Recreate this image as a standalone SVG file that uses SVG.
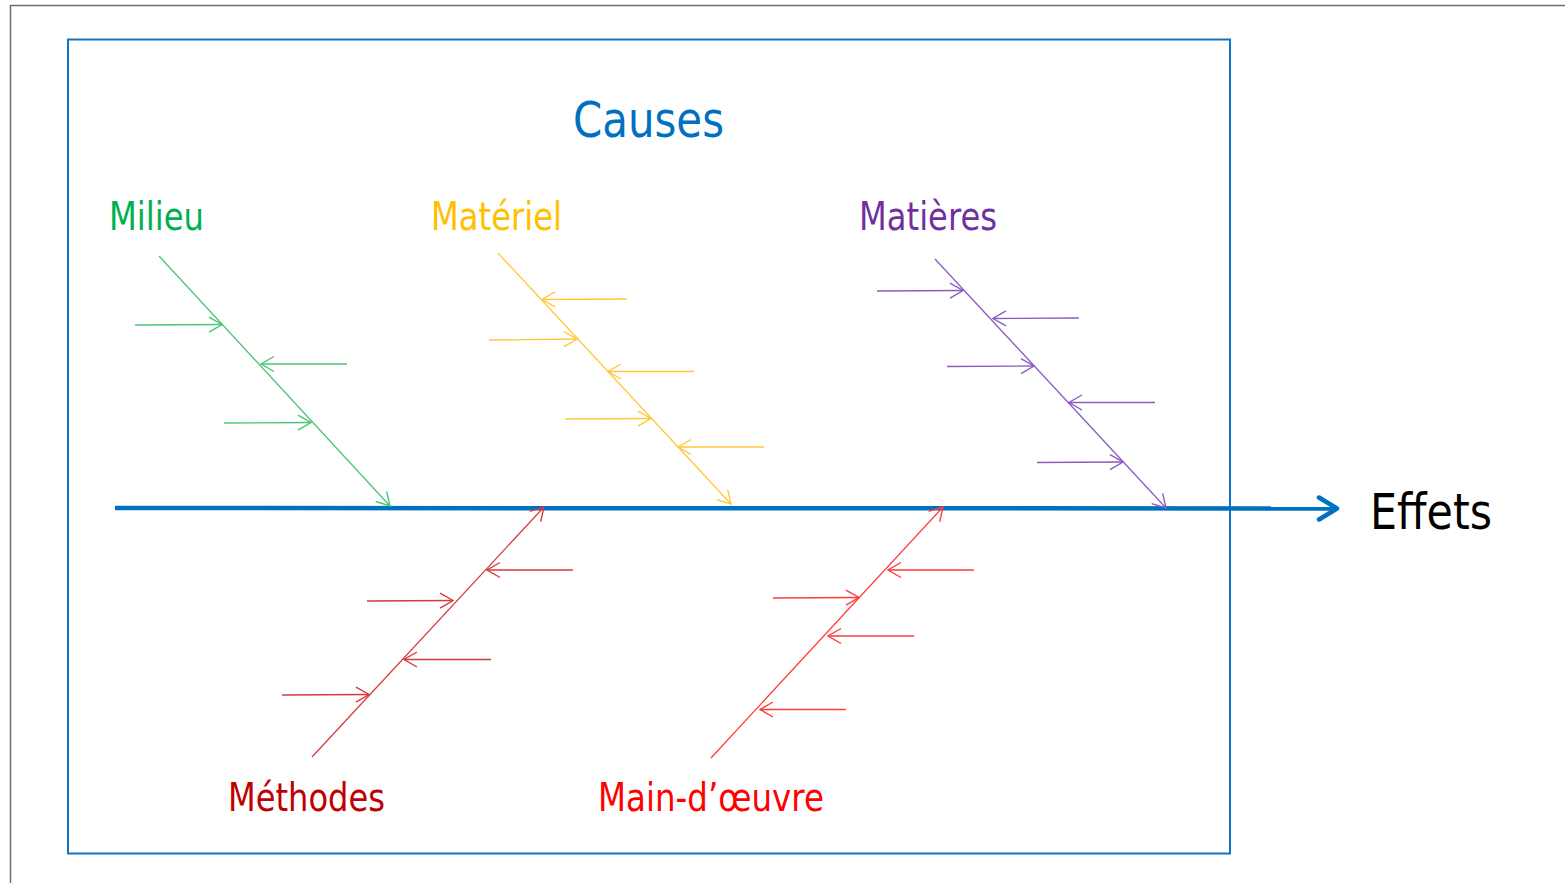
<svg xmlns="http://www.w3.org/2000/svg" width="1565" height="883" viewBox="0 0 1565 883">
<style>
text{font-family:"DejaVu Sans","Liberation Sans",sans-serif;}
.lbl{font-size:39px;}
.big{font-size:50px;}
.br{fill:none;stroke-width:1.3;}
.g{stroke:#4cc476;}
.o{stroke:#ffc83a;}
.p{stroke:#8a5cc0;}
.r1{stroke:#d63a3a;}
.r2{stroke:#ff3a3a;}
</style>
<defs>
<marker id="mg" markerUnits="userSpaceOnUse" viewBox="-15 -10 17 20" markerWidth="17" markerHeight="20" refX="0" refY="0" orient="auto"><path d="M-13,-7.5 L0,0 L-13,7.5" fill="none" stroke="#4cc476" stroke-width="1.4"/></marker>
<marker id="mo" markerUnits="userSpaceOnUse" viewBox="-15 -10 17 20" markerWidth="17" markerHeight="20" refX="0" refY="0" orient="auto"><path d="M-13,-7.5 L0,0 L-13,7.5" fill="none" stroke="#ffc83a" stroke-width="1.4"/></marker>
<marker id="mp" markerUnits="userSpaceOnUse" viewBox="-15 -10 17 20" markerWidth="17" markerHeight="20" refX="0" refY="0" orient="auto"><path d="M-13,-7.5 L0,0 L-13,7.5" fill="none" stroke="#8a5cc0" stroke-width="1.4"/></marker>
<marker id="mr1" markerUnits="userSpaceOnUse" viewBox="-15 -10 17 20" markerWidth="17" markerHeight="20" refX="0" refY="0" orient="auto"><path d="M-13,-7.5 L0,0 L-13,7.5" fill="none" stroke="#d63a3a" stroke-width="1.4"/></marker>
<marker id="mr2" markerUnits="userSpaceOnUse" viewBox="-15 -10 17 20" markerWidth="17" markerHeight="20" refX="0" refY="0" orient="auto"><path d="M-13,-7.5 L0,0 L-13,7.5" fill="none" stroke="#ff3a3a" stroke-width="1.4"/></marker>
</defs>
<rect width="1565" height="883" fill="#ffffff"/>
<path d="M10.5,883 L10.5,5.5 L1565,5.5" fill="none" stroke="#6e6e6e" stroke-width="1.5"/>
<g id="frame"><rect x="68" y="39.5" width="1162" height="814" fill="none" stroke="#0f74c4" stroke-width="2"/></g>
<g id="title"><text x="573" y="137" class="big" fill="#0070c0" textLength="151" lengthAdjust="spacingAndGlyphs">Causes</text></g>
<g id="effets"><text x="1370" y="529" class="big" fill="#000000" textLength="122" lengthAdjust="spacingAndGlyphs">Effets</text></g>
<g id="milieu"><text x="109" y="230" class="lbl" fill="#00b050" textLength="95" lengthAdjust="spacingAndGlyphs">Milieu</text></g>
<g id="materiel"><text x="431" y="230" class="lbl" fill="#ffc000" textLength="131" lengthAdjust="spacingAndGlyphs">Matériel</text></g>
<g id="matieres"><text x="859" y="230" class="lbl" fill="#7030a0" textLength="138" lengthAdjust="spacingAndGlyphs">Matières</text></g>
<g id="methodes"><text x="228" y="811" class="lbl" fill="#c00000" textLength="157" lengthAdjust="spacingAndGlyphs">Méthodes</text></g>
<g id="maindoeuvre"><text x="598" y="811" class="lbl" fill="#ff0000" textLength="226" lengthAdjust="spacingAndGlyphs">Main-d’œuvre</text></g>
<g id="connectors">
<g id="spine">
<line x1="115" y1="508" x2="1334" y2="508.5" stroke="#0070c0" stroke-width="4.5"/>
<path d="M1319,497.5 L1337,508.5 L1319,519.5" fill="none" stroke="#0070c0" stroke-width="4.5" stroke-linecap="round" stroke-linejoin="round"/>
</g>
<g id="c-milieu" class="br g">
<line x1="159" y1="256" x2="390" y2="506" marker-end="url(#mg)"/>
<line x1="135" y1="325" x2="222" y2="324.5" marker-end="url(#mg)"/>
<line x1="347" y1="364" x2="261" y2="364" marker-end="url(#mg)"/>
<line x1="224" y1="423" x2="311" y2="422.5" marker-end="url(#mg)"/>
</g>
<g id="c-materiel" class="br o">
<line x1="498" y1="253" x2="731" y2="504" marker-end="url(#mo)"/>
<line x1="627" y1="299" x2="542" y2="299.5" marker-end="url(#mo)"/>
<line x1="489" y1="340" x2="577" y2="339" marker-end="url(#mo)"/>
<line x1="694" y1="371.5" x2="608" y2="371.5" marker-end="url(#mo)"/>
<line x1="565" y1="419" x2="651" y2="418.5" marker-end="url(#mo)"/>
<line x1="764" y1="447" x2="678" y2="447" marker-end="url(#mo)"/>
</g>
<g id="c-matieres" class="br p">
<line x1="935" y1="259" x2="1166" y2="508" marker-end="url(#mp)"/>
<line x1="877" y1="291" x2="963" y2="290.5" marker-end="url(#mp)"/>
<line x1="1079" y1="318" x2="993" y2="318.5" marker-end="url(#mp)"/>
<line x1="947" y1="366.5" x2="1034" y2="366" marker-end="url(#mp)"/>
<line x1="1155" y1="402.5" x2="1069" y2="402.5" marker-end="url(#mp)"/>
<line x1="1037" y1="462.5" x2="1123" y2="462" marker-end="url(#mp)"/>
</g>
<g id="c-methodes" class="br r1">
<line x1="312" y1="757" x2="544" y2="507" marker-end="url(#mr1)"/>
<line x1="573" y1="570" x2="487" y2="570" marker-end="url(#mr1)"/>
<line x1="367" y1="601" x2="453" y2="600.5" marker-end="url(#mr1)"/>
<line x1="491" y1="659.5" x2="404" y2="659.5" marker-end="url(#mr1)"/>
<line x1="282" y1="695" x2="369" y2="694.5" marker-end="url(#mr1)"/>
</g>
<g id="c-maindoeuvre" class="br r2">
<line x1="711" y1="758" x2="943" y2="507" marker-end="url(#mr2)"/>
<line x1="974" y1="570" x2="888" y2="570" marker-end="url(#mr2)"/>
<line x1="773" y1="598" x2="859" y2="597.5" marker-end="url(#mr2)"/>
<line x1="914" y1="636" x2="828" y2="636" marker-end="url(#mr2)"/>
<line x1="846" y1="709.5" x2="760" y2="709.5" marker-end="url(#mr2)"/>
</g>
</g>
</svg>
